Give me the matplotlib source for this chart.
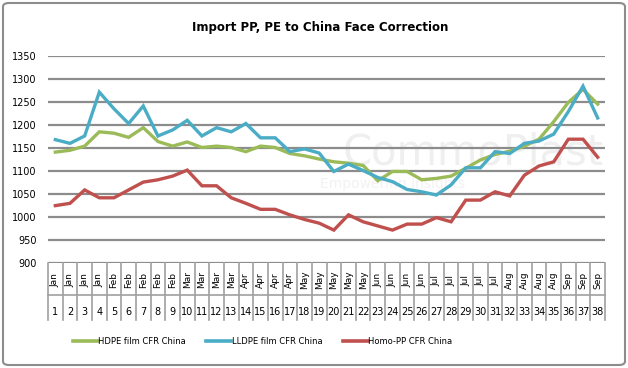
import matplotlib
matplotlib.use("Agg")
import matplotlib.pyplot as plt
from matplotlib.patches import FancyBboxPatch
from matplotlib.lines import Line2D

plt.rcParams['font.family'] = ['DejaVu Sans']

periods = list(range(1, 39))
months = (["Jan"] * 4 + ["Feb"] * 5 + ["Mar"] * 4 + ["Apr"] * 4 + ["May"] * 5 +
          ["Jun"] * 4 + ["Jul"] * 5 + ["Aug"] * 4 + ["Sep"] * 3)

hdpe = [1141, 1145, 1154, 1185, 1182, 1173, 1194, 1164, 1154, 1163,
        1151, 1154, 1151, 1142, 1154, 1151, 1138, 1133, 1126, 1120,
        1117, 1112, 1079, 1099, 1099, 1081, 1084, 1089, 1106, 1124,
        1136, 1143, 1154, 1169, 1207, 1249, 1277, 1245]
lldpe = [1168, 1160, 1176, 1271, 1235, 1203, 1241, 1176, 1189, 1210,
         1176, 1194, 1185, 1203, 1172, 1172, 1142, 1148, 1139, 1099,
         1115, 1101, 1086, 1077, 1060, 1055, 1048, 1070, 1107, 1107,
         1142, 1138, 1160, 1165, 1180, 1229, 1284, 1215]
homopp = [1025, 1030, 1059, 1042, 1042, 1059, 1076, 1081, 1089, 1102,
          1068, 1068, 1042, 1030, 1017, 1017, 1005, 995, 987, 972,
          1005, 990, 981, 972, 985, 985, 999, 990, 1037, 1037,
          1055, 1046, 1091, 1111, 1120, 1169, 1169, 1130]

series_names = ["HDPE film CFR China", "LLDPE film CFR China", "Homo-PP CFR China"]
colors = ["#9BBB59", "#4BACC6", "#C0504D"]
yticks = list(range(900, 1351, 50))

W, H = 628, 368
fig = plt.figure(figsize=(W / 100, H / 100), dpi=100)

# outer frame
frame = FancyBboxPatch((3 / W, 3 / H), 1 - 6 / W, 1 - 6 / H,
                       boxstyle="round,pad=0,rounding_size=0.01",
                       transform=fig.transFigure, fill=False,
                       edgecolor="#8c8c8c", linewidth=1.5)
fig.patches.append(frame)

left, right, top, bottom = 48, 605, 55.7, 263.3
ax = fig.add_axes([left / W, (H - bottom) / H, (right - left) / W, (bottom - top) / H])
ax.set_xlim(0.5, 38.5)
ax.set_ylim(900, 1350)
for s in ax.spines.values():
    s.set_visible(False)
ax.set_yticks(yticks)
ax.tick_params(axis='y', length=0, labelsize=7, pad=8)
ax.set_xticks([])
for yv in yticks:
    ax.axhline(yv, color="#8c8c8c", linewidth=1.6, zorder=1)

# watermark
ax.text(29.5, 1140, "CommoPlast", fontsize=30, color="#efefef", ha="center", va="center",
        zorder=0.5)
ax.text(24, 1072, "Empowering Insights", fontsize=10, color="#f2f2f2", ha="center",
        va="center", zorder=0.5)

for vals, name, c in zip([hdpe, lldpe, homopp], series_names, colors):
    ax.plot(periods, vals, color=c, linewidth=2.4, label=name, zorder=3,
            solid_joinstyle='miter')

# category table below axis
ph = bottom - top
def ay(py):
    return -(py - bottom) / ph
trans = ax.get_xaxis_transform()
for k in range(39):
    ax.plot([k + 0.5, k + 0.5], [0, ay(320)], transform=trans, color="#a0a0a0",
            linewidth=1.2, clip_on=False)
ax.plot([0.5, 38.5], [ay(295), ay(295)], transform=trans, color="#a0a0a0",
        linewidth=1.2, clip_on=False)
for p, m in zip(periods, months):
    ax.text(p, ay(280), m, rotation=90, ha="center", va="center", fontsize=6.5,
            transform=trans)
    ax.text(p, ay(312), str(p), ha="center", va="center", fontsize=7,
            transform=trans)

fig.text(0.51, 1 - 27 / H, "Import PP, PE to China Face Correction", ha="center",
         va="center", fontsize=8.5, fontweight="bold")

handles = [Line2D([], [], color=c, linewidth=2.6) for c in colors]
fig.legend(handles, series_names, loc="center", bbox_to_anchor=(0.418, 1 - 341 / H),
           ncol=3, frameon=False, fontsize=6, handlelength=3.0, handletextpad=0.1,
           columnspacing=2.4)

fig.savefig("out.png", dpi=100)
